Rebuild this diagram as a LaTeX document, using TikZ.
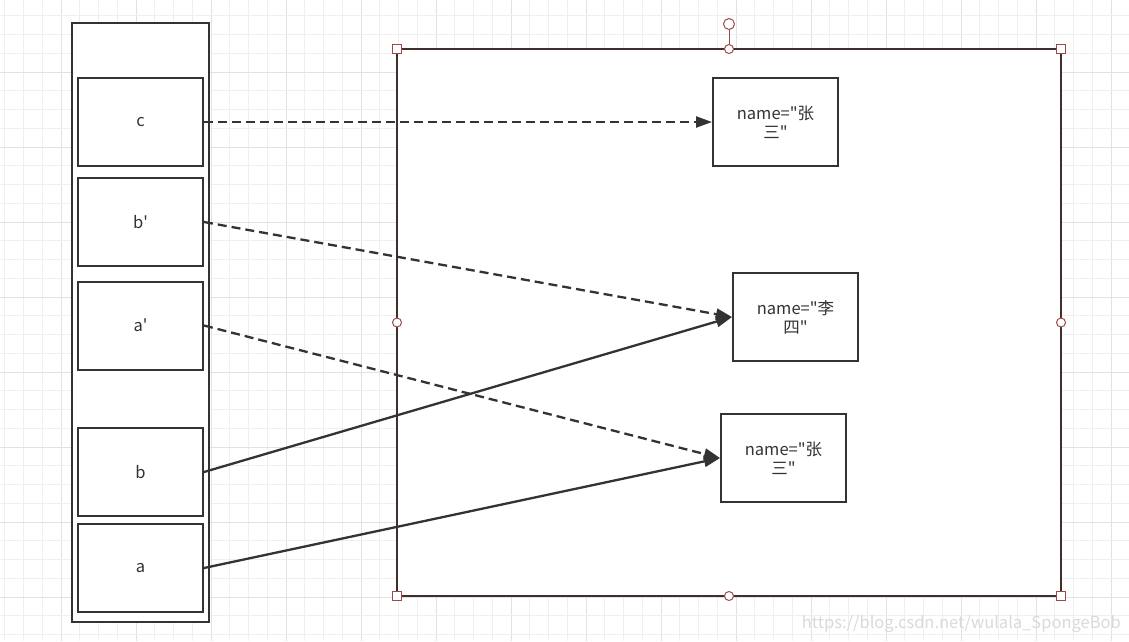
\documentclass[tikz,border=0pt]{standalone}
\usepackage{fontspec}
\setmainfont{Noto Sans CJK SC}
\usetikzlibrary{arrows.meta}
\definecolor{boxc}{HTML}{333333}
\definecolor{framec}{HTML}{3E2E2E}
\definecolor{handlec}{HTML}{A04848}
\definecolor{gridminor}{HTML}{EFEFEF}
\definecolor{gridmajor}{HTML}{E2E2E2}
\definecolor{wmark}{HTML}{DADADA}
\newcommand{\qd}{\textquotedbl}
\begin{document}
\begin{tikzpicture}[x=1pt,y=-1pt,
  cell/.style={draw=boxc, line width=2pt, fill=white, minimum width=125pt, minimum height=88pt, inner sep=0pt, font=\fontsize{16.5}{19}\selectfont, text=boxc},
  valbox/.style={cell, align=center},
  ref/.style={draw=boxc, line width=2.3pt, -{Triangle[length=16pt,width=11pt]}},
  dref/.style={ref, dash pattern=on 9pt off 5pt},
  handle/.style={draw=handlec, line width=1pt, fill=white}]
\useasboundingbox (0,0) rectangle (1129,641);
\fill[white] (0,0) rectangle (1129,641);
% grid
\foreach \k in {0,...,60}{
  \pgfmathtruncatemacro{\m}{mod(\k,4)}
  \ifnum\m=3
    \draw[gridmajor, line width=1pt] ({4.75+\k*18.75},0) -- ({4.75+\k*18.75},641);
  \else
    \draw[gridminor, line width=1pt] ({4.75+\k*18.75},0) -- ({4.75+\k*18.75},641);
  \fi
}
\foreach \k in {0,...,34}{
  \pgfmathtruncatemacro{\m}{mod(\k,4)}
  \ifnum\m=3
    \draw[gridmajor, line width=1pt] (0,{15.75+\k*18.75}) -- (1129,{15.75+\k*18.75});
  \else
    \draw[gridminor, line width=1pt] (0,{15.75+\k*18.75}) -- (1129,{15.75+\k*18.75});
  \fi
}
% heap frame
\draw[framec, line width=2pt, fill=white] (397,49) rectangle (1061,596);
% stack frame
\draw[boxc, line width=2pt, fill=white] (72,23) rectangle (209,622);
% stack cells
\node[cell] (c)  at (140.5,122) {c};
\node[cell] (bp) at (140.5,222) {b\textquotesingle};
\node[cell] (ap) at (140.5,325.5) {a\textquotesingle};
\node[cell] (b)  at (140.5,472) {b};
\node[cell] (a)  at (140.5,568) {a};
% heap objects
\node[valbox] (z1) at (775.5,122) {name=\qd 张\\三\qd};
\node[valbox] (l)  at (795.5,317) {name=\qd 李\\四\qd};
\node[valbox] (z2) at (783.5,458) {name=\qd 张\\三\qd};
% references
\draw[dref] (c.east) -- (z1.west);
\draw[dref] (bp.east) -- (l.west);
\draw[dref] (ap.east) -- (z2.west);
\draw[ref] (b.east) -- (l.west);
\draw[ref] (a.east) -- (z2.west);
% selection handles
\draw[handlec, line width=1pt] (729,29) -- (729,45);
\draw[handle] (729,24) circle (5.5);
\foreach \p in {(729,49),(397,322.5),(1061,322.5),(729,596)}
  \draw[handle] \p circle (4.5);
\foreach \p in {(397,49),(1061,49),(397,596),(1061,596)}
  \draw[handle] \p ++(-4.5,-4.5) rectangle ++(9,9);
% watermark
\node[anchor=east, text=wmark, font=\fontsize{16.5}{19}\selectfont, inner sep=0pt] (wm) at (1121,624) {https://blog.csdn.net/wulala\_SpongeBob};
\end{tikzpicture}
\end{document}
